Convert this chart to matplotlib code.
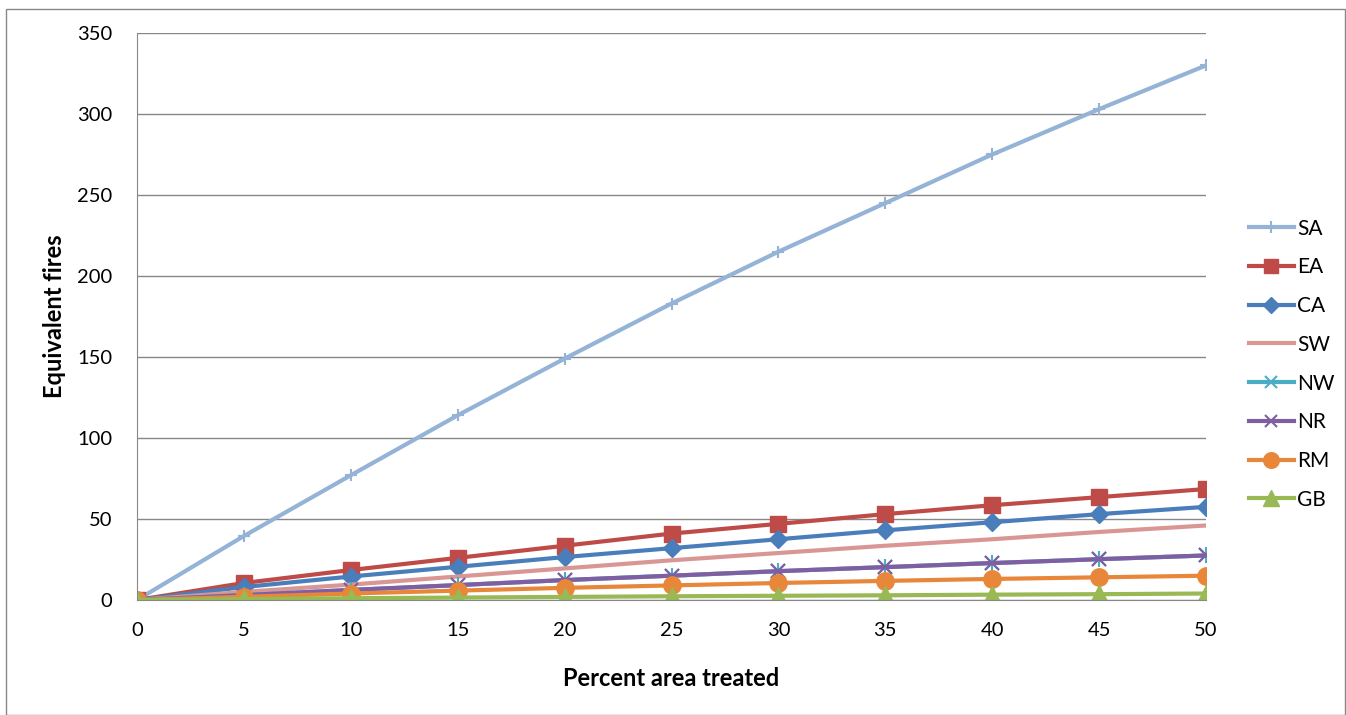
import matplotlib.pyplot as plt
from matplotlib.patches import Rectangle

plt.rcParams['font.family'] = ['Lato', 'DejaVu Sans']

# percent area treated
pct = [0, 5, 10, 15, 20, 25, 30, 35, 40, 45, 50]

# equivalent fires per region
sa = [0, 39.5, 77, 114, 149, 183, 215, 245, 275, 303, 330]
ea = [0, 10.5, 18.5, 26, 33.5, 41, 47, 53, 58.5, 63.5, 68.5]
ca = [0, 8, 14.5, 20.5, 26.5, 32, 37.5, 43, 48, 53, 57.5]
sw = [0, 5, 9.5, 14.5, 19.5, 24.5, 29, 33.5, 37.5, 42, 46]
nw = [0, 3, 6.2, 9.2, 12.3, 15, 17.8, 20.3, 22.8, 25.2, 27.5]
nr = [0, 3, 6.2, 9.2, 12.3, 15, 17.8, 20.3, 22.8, 25.2, 27.5]
rm = [0, 2, 4, 5.8, 7.5, 9, 10.5, 11.8, 13, 14, 15]
gb = [0, 0.6, 1.1, 1.5, 1.9, 2.3, 2.6, 2.9, 3.3, 3.6, 4]

series = [
    ("SA", sa, "#95B3D7", "+", 9),
    ("EA", ea, "#BE4B48", "s", 11.5),
    ("CA", ca, "#4A7EBB", "D", 9.5),
    ("SW", sw, "#D99694", "", 0),
    ("NW", nw, "#4BACC6", "*", 0),
    ("NR", nr, "#7F5FA1", "x", 10),
    ("RM", rm, "#E8873A", "o", 12.5),
    ("GB", gb, "#98B954", "^", 12.5),
]

fig = plt.figure(figsize=(13.46, 7.15), dpi=100)
ax = fig.add_axes([137 / 1346, 1 - 600 / 715, (1206 - 137) / 1346, (600 - 33) / 715])

for name, vals, color, marker, ms in series:
    if name == "NW":
        # asterisk-like marker: x plus vertical stroke
        ax.plot(pct, vals, color=color, lw=3, marker="x", ms=10, mew=1.5, label=name)
        ax.plot(pct, vals, color=color, lw=0, marker="|", ms=12, mew=1.5)
    elif marker in ("+", "x"):
        ax.plot(pct, vals, color=color, lw=3, marker=marker, ms=ms, mew=1.5, label=name)
    elif marker:
        ax.plot(pct, vals, color=color, lw=3, marker=marker, ms=ms, mec=color, label=name)
    else:
        ax.plot(pct, vals, color=color, lw=3, label=name)

ax.set_xlim(0, 50)
ax.set_ylim(0, 350)
ax.set_xticks(pct)
ax.set_yticks(range(0, 351, 50))
ax.grid(axis="y", color="#888888", lw=1)
ax.set_axisbelow(True)
ax.tick_params(length=0, labelsize=14.5)
ax.tick_params(axis="y", pad=18)
ax.tick_params(axis="x", pad=16)
for side in ["top", "right"]:
    ax.spines[side].set_visible(False)
for side in ["left", "bottom"]:
    ax.spines[side].set_color("#888888")

ax.set_xlabel("Percent area treated", fontsize=17, fontweight="bold", labelpad=20)
ax.set_ylabel("Equivalent fires", fontsize=17, fontweight="bold", labelpad=8)

ax.legend(loc="center left", bbox_to_anchor=(1.032, 0.416), frameon=False,
          borderaxespad=0, fontsize=15, handlelength=2.2, handletextpad=0.15,
          labelspacing=0.9, markerscale=0.9)

fig.patches.append(Rectangle((6 / 1346, 0), 1 - 6 / 1346 - 0.0005, 1 - 9 / 715,
                             transform=fig.transFigure, fill=False,
                             edgecolor="#888888", lw=1))

fig.savefig("out.png", dpi=100)
